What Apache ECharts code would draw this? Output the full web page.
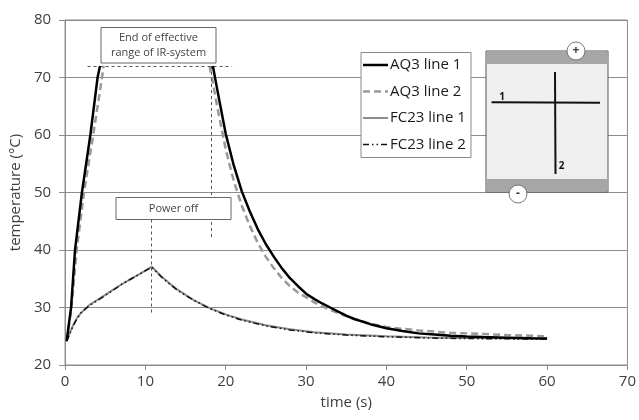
<!DOCTYPE html>
<html>
<head>
<meta charset="utf-8">
<script src="https://cdn.jsdelivr.net/npm/echarts@6/dist/echarts.min.js"></script>
<style>
  html, body { margin: 0; padding: 0; background: #ffffff; }
  #chart { width: 639px; height: 420px; }
</style>
</head>
<body>
<div id="chart"></div>
<script>
// ---- data (time in s, temperature in °C) ----
var seriesNames = ['AQ3 line 1', 'AQ3 line 2', 'FC23 line 1', 'FC23 line 2'];
var xTicks = [0, 10, 20, 30, 40, 50, 60, 70];
var yTicks = [20, 30, 40, 50, 60, 70, 80];

var aq3Line1Rise = [[0.2,24.2],[0.75,30],[1.24,40],[2.1,50],[3.15,60],[4.05,70],[4.35,72]];
var aq3Line1Decay = [[18.4,72],[19,67.5],[20,60.2],[21,54.7],[22,50.2],[23,46.7],[24,43.6],[25,41.0],[26,38.8],[27,36.8],[28,35.1],[29,33.7],[30,32.4],[31,31.5],[32,30.7],[33,30.0],[34,29.3],[35,28.6],[36,28.0],[38,27.1],[40,26.4],[42,25.9],[44,25.5],[46,25.3],[48,25.1],[50,24.95],[52,24.85],[55,24.75],[58,24.65],[60,24.6]];

var aq3Line2Rise = [[0.2,24.2],[0.8,30],[1.45,40],[2.35,50],[3.5,60],[4.6,70],[4.8,72]];
var aq3Line2Decay = [[18.0,72],[18.5,68.3],[19,64.5],[20,57.5],[21,52.0],[22,47.7],[23,44.2],[24,41.2],[25,38.8],[26,36.8],[27,35.1],[28,33.7],[29,32.6],[30,31.8],[31,30.9],[32,30.2],[33,29.6],[34,29.0],[35,28.5],[36,28.0],[38,27.2],[40,26.6],[42,26.3],[44,26.0],[46,25.8],[48,25.6],[50,25.5],[52,25.4],[55,25.2],[58,25.1],[60,25.0]];

var fc23Line1 = [[0.2,24.2],[0.6,25.6],[1,26.9],[1.5,28.2],[2,29.1],[3,30.4],[4,31.3],[5,32.2],[6,33.1],[7,34.0],[8,34.8],[9,35.6],[10,36.4],[10.8,37.1],[12,35.4],[13,34.2],[14,33.1],[15,32.2],[16,31.3],[18,29.9],[20,28.8],[22,27.9],[25,26.9],[28,26.2],[31,25.7],[35,25.3],[40,25.0],[45,24.8],[50,24.7],[55,24.65],[60,24.6]];
var fc23Line2 = [[0.2,24.1],[0.6,25.5],[1,26.8],[1.5,28.1],[2,29.1],[3,30.3],[4,31.2],[5,32.1],[6,33.0],[7,34.0],[8,34.8],[9,35.6],[10,36.4],[10.8,37.0],[12,35.3],[13,34.1],[14,33.0],[15,32.1],[16,31.3],[18,29.8],[20,28.7],[22,27.8],[25,26.8],[28,26.1],[31,25.6],[35,25.2],[40,24.9],[45,24.7],[50,24.6],[55,24.55],[60,24.5]];

// annotation positions (data coordinates)
var irLimitLine = [[2.8,72],[20.8,72]];
var irEndLine = [[18.25,72],[18.25,42]];
var powerOffLine = [[10.75,45.3],[10.75,29]];

var textColor = '#404040';
var font = '"Open Sans", "Liberation Sans", sans-serif';

var chart = echarts.init(document.getElementById('chart'), null, {renderer: 'canvas'});

function lineSeries(name, data, style, z, extra) {
  var s = {
    name: name, type: 'line', data: data, symbol: 'none', showSymbol: false,
    lineStyle: style, itemStyle: {color: style.color}, z: z,
    animation: false, smooth: false, clip: true
  };
  if (extra) { for (var k in extra) s[k] = extra[k]; }
  return s;
}

var s1 = {color: '#000000', width: 2.5, type: 'solid'};
var s2 = {color: '#999999', width: 2.5, type: [7, 4]};
var s3 = {color: '#8c8c8c', width: 2, type: 'solid'};
var s4 = {color: '#111111', width: 1.5, type: [6, 3, 1.5, 3, 1.5, 3]};
var seriesStyles = [s1, s2, s3, s4];

var markLines = {
  silent: true, symbol: ['none', 'none'], label: {show: false},
  lineStyle: {color: '#555555', width: 1, type: [3, 3]},
  data: [
    [{coord: irLimitLine[0]}, {coord: irLimitLine[1]}],
    [{coord: irEndLine[0]}, {coord: irEndLine[1]}],
    [{coord: powerOffLine[0]}, {coord: powerOffLine[1]}]
  ],
  animation: false
};

// legend drawn as graphic box (line swatches keep dash styles)
var legendGraphic = [
  {type: 'rect', z: 20, shape: {x: 361, y: 52.5, width: 110, height: 105},
   style: {fill: '#ffffff', stroke: '#888888', lineWidth: 1}}
];
var legendRowY = [65, 91.5, 118, 144.5];
seriesNames.forEach(function (n, i) {
  var st = seriesStyles[i];
  legendGraphic.push({type: 'line', z: 21,
    shape: {x1: 363, y1: legendRowY[i], x2: 388, y2: legendRowY[i]},
    style: {stroke: st.color, lineWidth: st.width, lineDash: (st.type === 'solid' ? null : st.type)}});
  legendGraphic.push({type: 'text', z: 21, x: 390, y: legendRowY[i],
    style: {text: n, fill: '#1a1a1a', font: '15px ' + font, align: 'left', verticalAlign: 'middle'}});
});

var option = {
  animation: false,
  textStyle: {fontFamily: font},
  grid: {left: 64, right: 11, top: 20, bottom: 55, show: true, borderColor: '#8c8c8c', borderWidth: 1},
  xAxis: {
    type: 'value', min: xTicks[0], max: xTicks[xTicks.length-1], interval: 10,
    name: 'time (s)', nameLocation: 'middle', nameGap: 30,
    nameTextStyle: {fontSize: 15, color: textColor, fontFamily: font},
    axisLine: {show: true, lineStyle: {color: '#8c8c8c', width: 1}},
    axisTick: {show: true, length: 5, lineStyle: {color: '#8c8c8c'}},
    axisLabel: {fontSize: 15, color: textColor, margin: 9, fontFamily: font},
    splitLine: {show: false}
  },
  yAxis: {
    type: 'value', min: yTicks[0], max: yTicks[yTicks.length-1], interval: 10,
    name: 'temperature (°C)', nameLocation: 'middle', nameGap: 29,
    nameTextStyle: {fontSize: 15, color: textColor, fontFamily: font},
    axisLine: {show: true, lineStyle: {color: '#8c8c8c', width: 1}},
    axisTick: {show: true, length: 6, lineStyle: {color: '#8c8c8c'}},
    axisLabel: {fontSize: 15, color: textColor, margin: 14, fontFamily: font},
    splitLine: {show: true, lineStyle: {color: '#8c8c8c', width: 1.2}}
  },
  series: [
    lineSeries('AQ3 line 1', aq3Line1Rise, s1, 5),
    lineSeries('AQ3 line 2', aq3Line2Rise, s2, 4),
    lineSeries('FC23 line 1', fc23Line1, s3, 3),
    lineSeries('FC23 line 2', fc23Line2, s4, 4),
    lineSeries('AQ3 line 1', aq3Line1Decay, s1, 5, {markLine: markLines}),
    lineSeries('AQ3 line 2', aq3Line2Decay, s2, 4)
  ],
  graphic: legendGraphic.concat([
    // annotation box: end of effective range
    {type: 'rect', z: 20, shape: {x: 101, y: 27.5, width: 115, height: 35.5},
     style: {fill: '#ffffff', stroke: '#666666', lineWidth: 1}},
    {type: 'text', z: 21, x: 158.5, y: 45.5,
     style: {text: 'End of effective\nrange of IR-system', fill: '#444444', font: '11px ' + font,
             align: 'center', verticalAlign: 'middle', lineHeight: 15}},
    // annotation box: power off
    {type: 'rect', z: 20, shape: {x: 116, y: 197.5, width: 115, height: 22},
     style: {fill: '#ffffff', stroke: '#666666', lineWidth: 1}},
    {type: 'text', z: 21, x: 173.5, y: 208.5,
     style: {text: 'Power off', fill: '#444444', font: '11px ' + font,
             align: 'center', verticalAlign: 'middle'}},
    // inset diagram
    {type: 'rect', z: 20, shape: {x: 486, y: 51, width: 122, height: 141},
     style: {fill: '#efefef', stroke: '#555555', lineWidth: 1}},
    {type: 'rect', z: 21, shape: {x: 486.5, y: 51.5, width: 121, height: 12.5},
     style: {fill: '#a6a6a6'}},
    {type: 'rect', z: 21, shape: {x: 486.5, y: 179, width: 121, height: 12.5},
     style: {fill: '#a6a6a6'}},
    {type: 'line', z: 22, shape: {x1: 491.5, y1: 102.2, x2: 600, y2: 102.8},
     style: {stroke: '#111111', lineWidth: 2}},
    {type: 'line', z: 22, shape: {x1: 555, y1: 72, x2: 555.5, y2: 174},
     style: {stroke: '#111111', lineWidth: 2}},
    {type: 'text', z: 22, x: 502, y: 97,
     style: {text: '1', fill: '#111111', font: 'bold 10px ' + font, align: 'center', verticalAlign: 'middle'}},
    {type: 'text', z: 22, x: 561.5, y: 166,
     style: {text: '2', fill: '#111111', font: 'bold 10px ' + font, align: 'center', verticalAlign: 'middle'}},
    {type: 'circle', z: 23, shape: {cx: 576, cy: 51, r: 9},
     style: {fill: '#ffffff', stroke: '#777777', lineWidth: 1}},
    {type: 'text', z: 24, x: 576, y: 50.5,
     style: {text: '+', fill: '#333333', font: 'bold 12px ' + font, align: 'center', verticalAlign: 'middle'}},
    {type: 'circle', z: 23, shape: {cx: 518, cy: 194, r: 9},
     style: {fill: '#ffffff', stroke: '#777777', lineWidth: 1}},
    {type: 'text', z: 24, x: 518, y: 193.5,
     style: {text: '-', fill: '#333333', font: 'bold 12px ' + font, align: 'center', verticalAlign: 'middle'}}
  ])
};

chart.setOption(option);
</script>
</body>
</html>
